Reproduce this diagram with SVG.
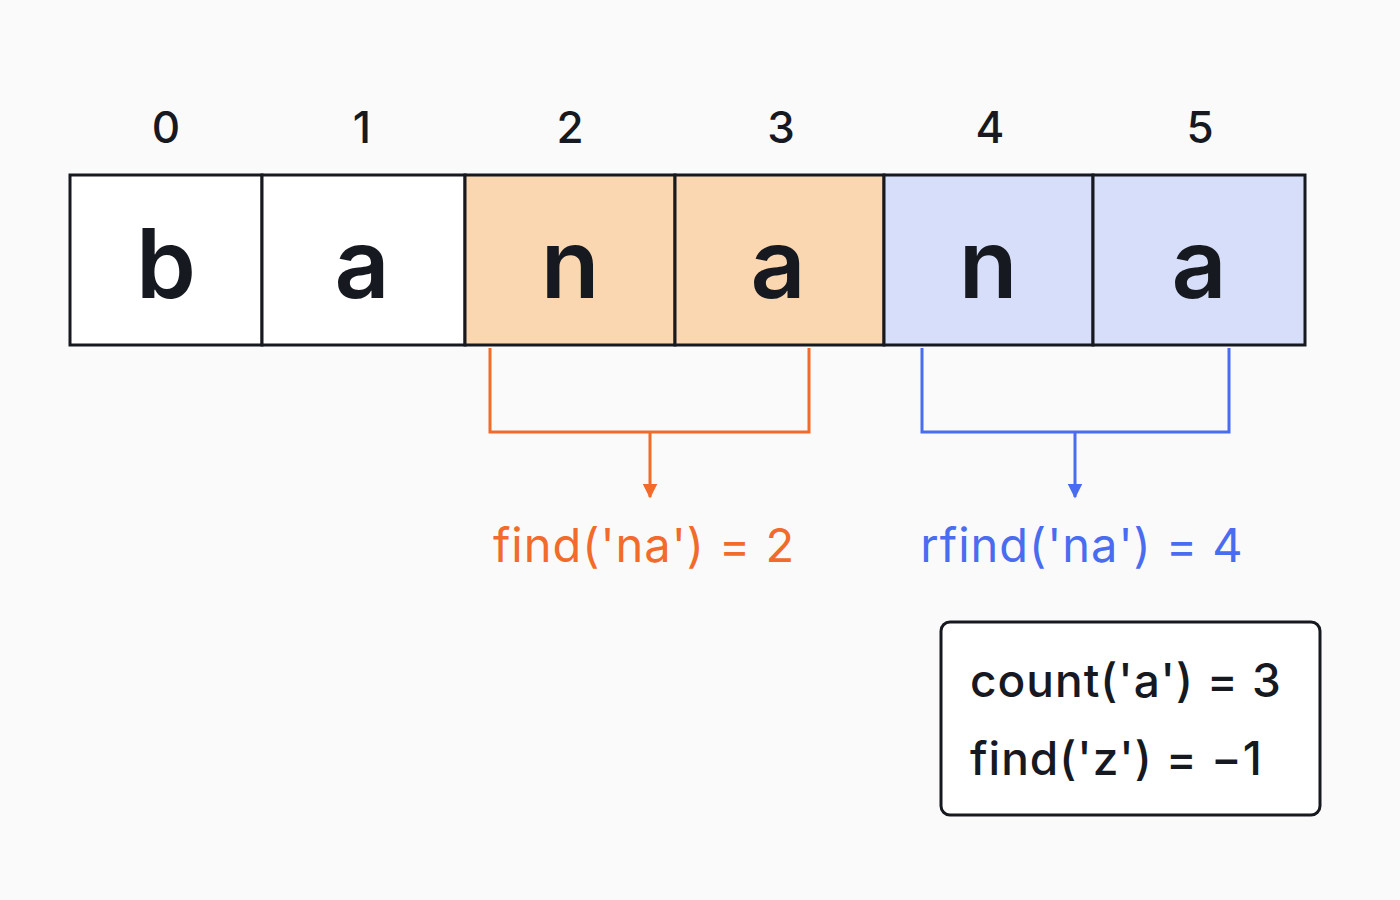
<svg xmlns="http://www.w3.org/2000/svg" width="1400" height="900" viewBox="0 0 1400 900">
<style>
.cell{stroke:#16191f;stroke-width:3}
.idx{font-family:Inter,"Noto Sans",sans-serif;font-size:44px;font-weight:500;fill:#16191f;text-anchor:middle}
.ch{font-family:Inter,"Noto Sans",sans-serif;font-size:96px;font-weight:600;fill:#16191f;text-anchor:middle}
.lbl{font-family:Inter,"Noto Sans",sans-serif;font-size:47px;letter-spacing:1px;text-anchor:middle}
.box{font-family:Inter,"Noto Sans",sans-serif;font-size:46px;font-weight:500;letter-spacing:1px;fill:#16191f}
</style>
<defs>
<marker id="ao" viewBox="0 0 10 10" refX="9" refY="5" markerWidth="5" markerHeight="5" orient="auto"><path d="M0,0L10,5L0,10z" fill="#F26B2A"/></marker>
<marker id="ab" viewBox="0 0 10 10" refX="9" refY="5" markerWidth="5" markerHeight="5" orient="auto"><path d="M0,0L10,5L0,10z" fill="#4A6CF0"/></marker>
</defs>
<rect width="1400" height="900" fill="#FAFAFA"/>
<g id="indices">
<text class="idx" x="166" y="143">0</text><text class="idx" x="362" y="143">1</text><text class="idx" x="570" y="143">2</text><text class="idx" x="781" y="143">3</text><text class="idx" x="990" y="143">4</text><text class="idx" x="1200" y="143">5</text>
</g>
<g id="cell0"><rect class="cell" x="70" y="175" width="192" height="170" fill="#fff"/><text class="ch" x="166" y="298">b</text></g>
<g id="cell1"><rect class="cell" x="262" y="175" width="203" height="170" fill="#fff"/><text class="ch" x="362" y="298">a</text></g>
<g id="cell2"><rect class="cell" x="465" y="175" width="210" height="170" fill="#FAD7B0"/><text class="ch" x="570" y="298">n</text></g>
<g id="cell3"><rect class="cell" x="675" y="175" width="209" height="170" fill="#FAD7B0"/><text class="ch" x="778" y="298">a</text></g>
<g id="cell4"><rect class="cell" x="884" y="175" width="209" height="170" fill="#D6DEFA"/><text class="ch" x="988" y="298">n</text></g>
<g id="cell5"><rect class="cell" x="1093" y="175" width="212" height="170" fill="#D6DEFA"/><text class="ch" x="1199" y="298">a</text></g>
<g id="connectors" fill="none" stroke-width="3">
<path d="M490,348V432H809V348" stroke="#F26B2A"/>
<path d="M650,432V497" stroke="#F26B2A" marker-end="url(#ao)"/>
<path d="M922,348V432H1229V348" stroke="#4A6CF0"/>
<path d="M1075,432V497" stroke="#4A6CF0" marker-end="url(#ab)"/>
</g>
<g id="findLabel"><text class="lbl" x="644" y="562" fill="#F26B2A">find('na') = 2</text></g>
<g id="rfindLabel"><text class="lbl" x="1082" y="562" fill="#4A6CF0">rfind('na') = 4</text></g>
<g id="infoBox">
<rect x="941" y="622" width="379" height="193" rx="9" fill="#fff" stroke="#16191f" stroke-width="3"/>
<text class="box" x="970" y="697">count('a') = 3</text>
<text class="box" x="970" y="775">find('z') = −1</text>
</g>
</svg>
